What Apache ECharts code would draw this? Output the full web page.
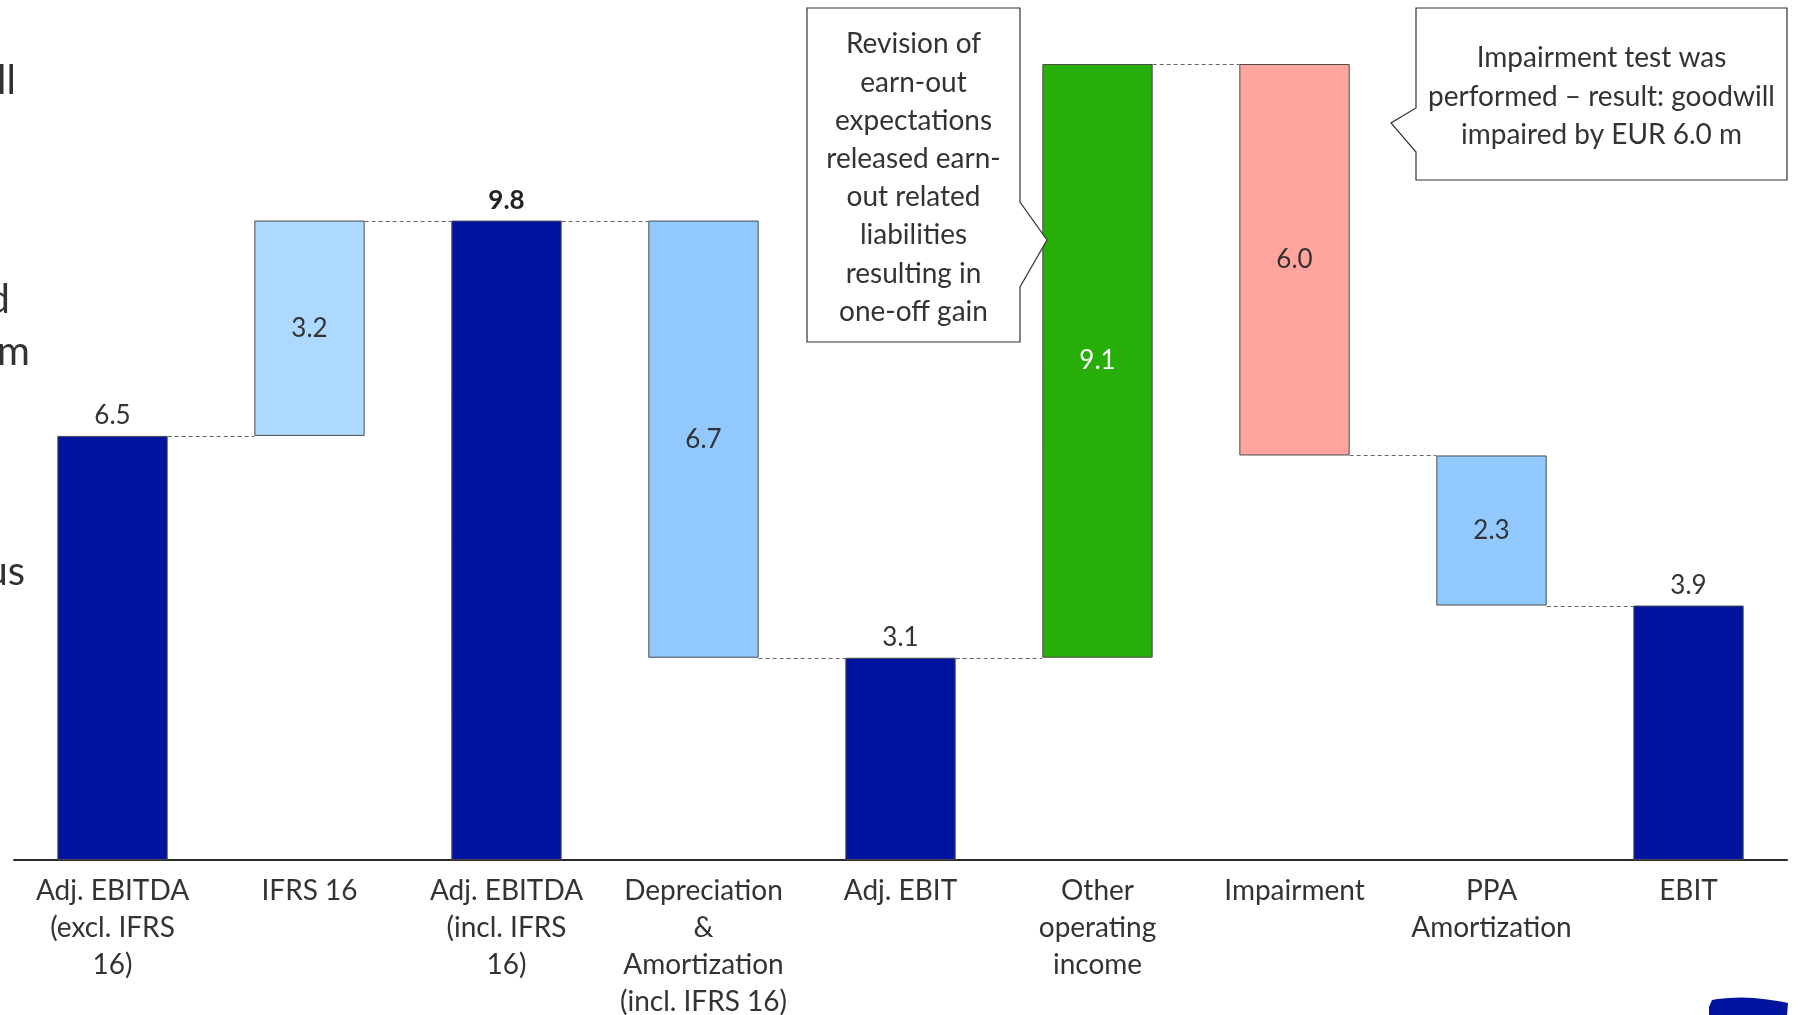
<!DOCTYPE html>
<html>
<head>
<meta charset="utf-8">
<script src="https://cdn.jsdelivr.net/npm/echarts@6/dist/echarts.min.js"></script>
<style>
html,body{margin:0;padding:0;background:#fff;}
#chart{width:1798px;height:1015px;}
</style>
</head>
<body>
<div id="chart"></div>
<script>
// ---- data ----
const categories = [
  'Adj. EBITDA\n(excl. IFRS\n16)',
  'IFRS 16',
  'Adj. EBITDA\n(incl. IFRS\n16)',
  'Depreciation\n&\nAmortization\n(incl. IFRS 16)',
  'Adj. EBIT',
  'Other\noperating\nincome',
  'Impairment',
  'PPA\nAmortization',
  'EBIT'
];
const values = [6.5, 3.2, 9.8, -6.7, 3.1, 9.1, -6.0, -2.3, 3.9];
const kinds = ['total', 'delta', 'total', 'delta', 'total', 'delta', 'delta', 'delta', 'total'];
const valueLabels = ['6.5', '3.2', '9.8', '6.7', '3.1', '9.1', '6.0', '2.3', '3.9'];

// ---- styles ----
const barColors = ['#0014A0', '#ADD8FF', '#0014A0', '#91C9FF', '#0014A0', '#28AE08', '#FFA59E', '#91C9FF', '#0014A0'];
const FONT = 'Lato, "Open Sans", sans-serif';
const TXT = '#333333';

// ---- waterfall computation ----
const bases = [], heights = [], levels = [];
let level = 0;
values.forEach((v, i) => {
  if (kinds[i] === 'total') {
    bases.push(0); heights.push(v); level = v;
  } else {
    const start = level;
    const end = (kinds[i + 1] === 'total') ? values[i + 1] : level + v;
    bases.push(Math.min(start, end));
    heights.push(Math.abs(end - start));
    level = end;
  }
  levels.push(level);
});

const barData = heights.map((h, i) => ({
  value: h,
  itemStyle: { color: barColors[i], borderColor: '#4a4a4a', borderWidth: 1 },
  label: {
    show: true,
    formatter: valueLabels[i],
    position: kinds[i] === 'total' ? 'top' : 'inside',
    distance: 7,
    fontFamily: FONT,
    fontSize: 26,
    fontWeight: i === 2 ? 'bold' : 'normal',
    color: i === 5 ? '#ffffff' : (i === 2 ? '#222' : TXT)
  }
}));

const connectorData = levels.slice(0, -1).map((l, i) => [i, l]);

// logo fragment outline (decorative)
const blobPts = [[1709, 1015], [1709, 1007]];
for (let k = 0; k <= 12; k++) {
  const t = k / 12;
  const x = (1 - t) * (1 - t) * 1712 + 2 * (1 - t) * t * 1745 + t * t * 1788;
  const y = (1 - t) * (1 - t) * 1000 + 2 * (1 - t) * t * 994 + t * t * 1003;
  blobPts.push([x, y]);
}
blobPts.push([1787, 1015]);

const chart = echarts.init(document.getElementById('chart'));
chart.setOption({
  animation: false,
  backgroundColor: '#fff',
  grid: { left: 14, right: 11, top: 64, bottom: 155, outerBoundsMode: 'none', containLabel: false },
  xAxis: {
    type: 'category',
    data: categories,
    axisLine: { lineStyle: { color: '#2a2a2a', width: 2 } },
    axisTick: { show: false },
    axisLabel: {
      interval: 0,
      margin: 12,
      fontFamily: FONT,
      fontSize: 28,
      lineHeight: 37,
      color: TXT,
      align: 'center'
    }
  },
  yAxis: {
    type: 'value', min: 0, max: 12.2, show: false,
    splitLine: { show: false }
  },
  series: [
    {
      type: 'bar', stack: 'w', barWidth: '56%', silent: true,
      itemStyle: { color: 'transparent' },
      data: bases
    },
    {
      type: 'bar', stack: 'w', barWidth: '56%', silent: true,
      data: barData
    },
    {
      type: 'custom', silent: true, clip: false,
      encode: { x: 0, y: 1 },
      data: connectorData,
      renderItem: function (params, api) {
        const i = api.value(0), y = api.value(1);
        const p1 = api.coord([i, y]);
        const p2 = api.coord([i + 1, y]);
        const half = api.size([1, 0])[0] * 0.56 / 2;
        const yy = Math.round(p1[1]) + 0.5;
        return {
          type: 'line',
          shape: { x1: p1[0] + half, y1: yy, x2: p2[0] - half, y2: yy },
          style: { stroke: '#666', lineWidth: 1, lineDash: [4, 3] }
        };
      }
    }
  ],
  graphic: [
    // callout 1
    {
      type: 'polygon', silent: true,
      shape: { points: [[807, 8], [1020, 8], [1020, 202], [1047, 240], [1020, 287], [1020, 342], [807, 342]] },
      style: { fill: '#fff', stroke: '#333', lineWidth: 1.2 }, z: 100
    },
    {
      type: 'text', silent: true, z: 101,
      style: {
        x: 913.5, y: 178,
        text: 'Revision of\nearn-out\nexpectations\nreleased earn-\nout related\nliabilities\nresulting in\none-off gain',
        align: 'center', verticalAlign: 'middle',
        font: '28px ' + FONT, lineHeight: 38.2, fill: TXT
      }
    },
    // callout 2
    {
      type: 'polygon', silent: true,
      shape: { points: [[1416, 8], [1787, 8], [1787, 180], [1416, 180], [1416, 152], [1391, 123], [1416, 108]] },
      style: { fill: '#fff', stroke: '#333', lineWidth: 1.2 }, z: 100
    },
    {
      type: 'text', silent: true, z: 101,
      style: {
        x: 1601.5, y: 96.5,
        text: 'Impairment test was\nperformed \u2013 result: goodwill\nimpaired by EUR 6.0 m',
        align: 'center', verticalAlign: 'middle',
        font: '28px ' + FONT, lineHeight: 38.5, fill: TXT
      }
    },
    // cut-off slide text on the left
    { type: 'text', silent: true, style: { x: 16, y: 81, text: 'll', align: 'right', verticalAlign: 'middle', font: '40px ' + FONT, fill: TXT } },
    { type: 'text', silent: true, style: { x: 10, y: 300, text: 'd', align: 'right', verticalAlign: 'middle', font: '40px ' + FONT, fill: TXT } },
    { type: 'text', silent: true, style: { x: 30, y: 352, text: 'm', align: 'right', verticalAlign: 'middle', font: '40px ' + FONT, fill: TXT } },
    { type: 'text', silent: true, style: { x: 25, y: 572, text: 'us', align: 'right', verticalAlign: 'middle', font: '40px ' + FONT, fill: TXT } },
    // logo fragment bottom-right
    {
      type: 'polygon', silent: true,
      shape: { points: blobPts },
      style: { fill: '#0014A0' }
    }
  ]
});
</script>
</body>
</html>
